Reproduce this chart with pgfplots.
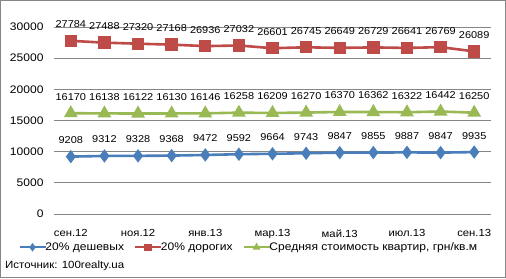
\documentclass[border=0pt]{standalone}
\usepackage{pgfplots}
\pgfplotsset{compat=1.18}
\usepackage{fontspec}
\setmainfont[FakeStretch=1.1]{Liberation Sans}
\definecolor{cblue}{HTML}{4A7EBB}
\definecolor{cred}{HTML}{BE4B48}
\definecolor{cgreen}{HTML}{98B954}
\definecolor{gridc}{HTML}{868686}
\begin{document}
\begin{tikzpicture}[x=1bp,y=1bp]
\useasboundingbox (0,0) rectangle (506,278);
\draw[draw=gridc, line width=1bp] (0.5,0.5) rectangle (505.5,277.5);
\begin{axis}[
  at={(54bp,64bp)}, anchor=south west,
  width=437bp, height=187bp, scale only axis,
  xmin=-0.5, xmax=12.5, ymin=0, ymax=30000,
  ytick={0,5000,...,30000},
  xtick={0,2,...,12},
  xticklabels={сен.12,ноя.12,янв.13,мар.13,май.13,июл.13,сен.13},
  scaled y ticks=false,
  /pgf/number format/.cd, 1000 sep={}, assume math mode=true, /pgfplots/.cd,
  axis line style={draw=none},
  major tick length=0pt,
  ymajorgrids, grid style={gridc, line width=0.8bp},
  yticklabel style={font=\fontsize{11}{12}\selectfont, xshift=-7bp},
  xticklabel style={font=\fontsize{10.3}{12}\selectfont, yshift=-12bp},
  clip=false,
  point meta=explicit symbolic,
  nodes near coords,
  every node near coord/.style={font=\fontsize{10}{12}\selectfont, anchor=center, yshift=16.5bp, text=black},
  legend columns=3,
  legend style={at={(0.446,-0.178)}, anchor=center, draw=none, fill=none,
    font=\fontsize{11}{12}\selectfont, inner xsep=0pt,
    /tikz/every odd column/.append style={column sep=-3bp},
    /tikz/every even column/.append style={column sep=8bp}},
  legend image code/.code={\draw[#1, line width=1.8bp, mark size=2.8bp, mark repeat=2, mark phase=2] plot coordinates {(0bp,0bp) (13bp,0bp) (26bp,0bp)};},
]
\addplot[cblue, line width=2.6bp, mark=diamond*, mark size=4.6bp, mark options={solid, fill=cblue}] table[meta=l] {
x y l
0 9208 9208
1 9312 9312
2 9328 9328
3 9368 9368
4 9472 9472
5 9592 9592
6 9664 9664
7 9743 9743
8 9847 9847
9 9855 9855
10 9887 9887
11 9847 9847
12 9935 9935
};
\addlegendentry{20\% дешевых}
\addplot[cred, line width=2.6bp, mark=square*, mark size=4.9bp, mark options={solid, fill=cred}] table[meta=l] {
x y l
0 27784 27784
1 27488 27488
2 27320 27320
3 27168 27168
4 26936 26936
5 27032 27032
6 26601 26601
7 26745 26745
8 26649 26649
9 26729 26729
10 26641 26641
11 26769 26769
12 26089 26089
};
\addlegendentry{20\% дорогих}
\addplot[cgreen, line width=2.6bp, mark=triangle*, mark size=5.4bp, mark options={solid, fill=cgreen}] table[meta=l] {
x y l
0 16170 16170
1 16138 16138
2 16122 16122
3 16130 16130
4 16146 16146
5 16258 16258
6 16209 16209
7 16270 16270
8 16370 16370
9 16362 16362
10 16322 16322
11 16442 16442
12 16250 16250
};
\addlegendentry{Средняя стоимость квартир, грн/кв.м}
\end{axis}
\node[anchor=west, font=\fontsize{10.5}{12}\selectfont, inner sep=0pt] at (5,12) {Источник: 100realty.ua};
\end{tikzpicture}
\end{document}
